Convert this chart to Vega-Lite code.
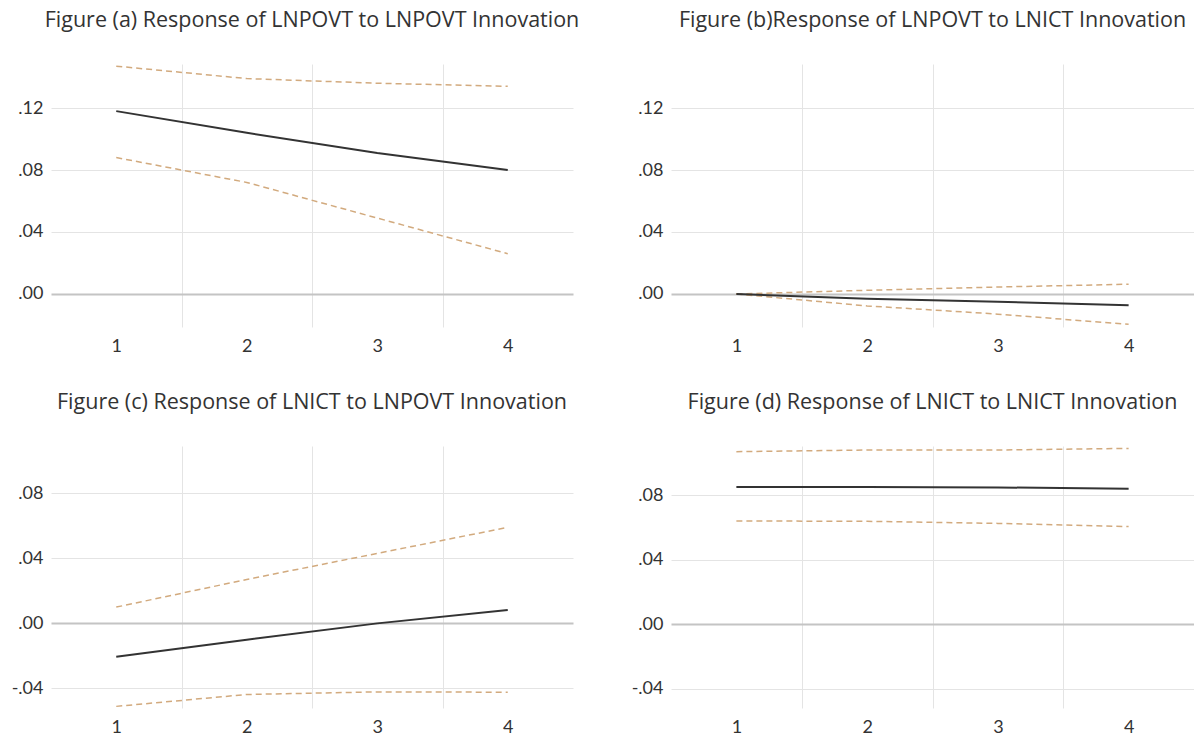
{
  "$schema": "https://vega.github.io/schema/vega-lite/v6.json",
  "padding": {"left": 11, "top": 9, "right": 0, "bottom": 0},
  "background": "white",
  "bounds": "flush",
  "columns": 2,
  "spacing": {"row": 119, "column": 98},
  "config": {
    "view": {"stroke": null},
    "font": "Lato",
    "title": {"font": "Open Sans", "fontSize": 21.5, "fontWeight": "normal", "color": "#333333", "anchor": "middle", "frame": "group", "offset": 33, "baseline": "alphabetic"},
    "axis": {"domain": false, "ticks": false, "labelFont": "Lato", "labelFontSize": 18, "labelColor": "#333333", "title": null, "labelFlush": false, "labelOverlap": false, "gridWidth": 1},
    "line": {"strokeJoin": "round"}
  },
  "data": {"values": [
    {"panel": "a", "series": "resp", "h": 1, "value": 0.118},
    {"panel": "a", "series": "resp", "h": 2, "value": 0.104},
    {"panel": "a", "series": "resp", "h": 3, "value": 0.091},
    {"panel": "a", "series": "resp", "h": 4, "value": 0.080},
    {"panel": "a", "series": "upper", "h": 1, "value": 0.147},
    {"panel": "a", "series": "upper", "h": 2, "value": 0.139},
    {"panel": "a", "series": "upper", "h": 3, "value": 0.136},
    {"panel": "a", "series": "upper", "h": 4, "value": 0.134},
    {"panel": "a", "series": "lower", "h": 1, "value": 0.088},
    {"panel": "a", "series": "lower", "h": 2, "value": 0.072},
    {"panel": "a", "series": "lower", "h": 3, "value": 0.049},
    {"panel": "a", "series": "lower", "h": 4, "value": 0.026},
    {"panel": "b", "series": "resp", "h": 1, "value": 0.000},
    {"panel": "b", "series": "resp", "h": 2, "value": -0.003},
    {"panel": "b", "series": "resp", "h": 3, "value": -0.005},
    {"panel": "b", "series": "resp", "h": 4, "value": -0.0073},
    {"panel": "b", "series": "upper", "h": 1, "value": 0.000},
    {"panel": "b", "series": "upper", "h": 2, "value": 0.0024},
    {"panel": "b", "series": "upper", "h": 3, "value": 0.0045},
    {"panel": "b", "series": "upper", "h": 4, "value": 0.0063},
    {"panel": "b", "series": "lower", "h": 1, "value": 0.000},
    {"panel": "b", "series": "lower", "h": 2, "value": -0.0077},
    {"panel": "b", "series": "lower", "h": 3, "value": -0.013},
    {"panel": "b", "series": "lower", "h": 4, "value": -0.0196},
    {"panel": "c", "series": "resp", "h": 1, "value": -0.0205},
    {"panel": "c", "series": "resp", "h": 2, "value": -0.010},
    {"panel": "c", "series": "resp", "h": 3, "value": 0.000},
    {"panel": "c", "series": "resp", "h": 4, "value": 0.0082},
    {"panel": "c", "series": "upper", "h": 1, "value": 0.010},
    {"panel": "c", "series": "upper", "h": 2, "value": 0.027},
    {"panel": "c", "series": "upper", "h": 3, "value": 0.043},
    {"panel": "c", "series": "upper", "h": 4, "value": 0.059},
    {"panel": "c", "series": "lower", "h": 1, "value": -0.051},
    {"panel": "c", "series": "lower", "h": 2, "value": -0.0437},
    {"panel": "c", "series": "lower", "h": 3, "value": -0.0421},
    {"panel": "c", "series": "lower", "h": 4, "value": -0.0423},
    {"panel": "d", "series": "resp", "h": 1, "value": 0.085},
    {"panel": "d", "series": "resp", "h": 2, "value": 0.085},
    {"panel": "d", "series": "resp", "h": 3, "value": 0.0848},
    {"panel": "d", "series": "resp", "h": 4, "value": 0.084},
    {"panel": "d", "series": "upper", "h": 1, "value": 0.107},
    {"panel": "d", "series": "upper", "h": 2, "value": 0.108},
    {"panel": "d", "series": "upper", "h": 3, "value": 0.108},
    {"panel": "d", "series": "upper", "h": 4, "value": 0.109},
    {"panel": "d", "series": "lower", "h": 1, "value": 0.064},
    {"panel": "d", "series": "lower", "h": 2, "value": 0.0638},
    {"panel": "d", "series": "lower", "h": 3, "value": 0.0625},
    {"panel": "d", "series": "lower", "h": 4, "value": 0.0605}
  ]},
  "concat": [
    {
      "width": 522, "height": 263,
      "title": "Figure (a) Response of LNPOVT to LNPOVT Innovation",
      "transform": [{"filter": "datum.panel === 'a'"}],
      "encoding": {
        "x": {"field": "h", "type": "quantitative", "scale": {"domain": [0.5, 4.5], "nice": false, "zero": false},
              "axis": {"values": [1, 1.5, 2, 2.5, 3, 3.5, 4], "labelPadding": 10, "labelExpr": "datum.value % 1 === 0 ? format(datum.value, 'd') : ''", "gridColor": "#e4e4e4", "gridOpacity": {"condition": {"test": "datum.value % 1 === 0", "value": 0}, "value": 1}}},
        "y": {"field": "value", "type": "quantitative", "scale": {"domain": [-0.0213, 0.1484], "nice": false, "zero": false},
              "axis": {"values": [0, 0.04, 0.08, 0.12], "labelPadding": 8, "labelExpr": "replace(replace(format(datum.value, '.2f'), '0.', '.'), '−', '-')", "gridColor": {"condition": {"test": "datum.value === 0", "value": "#c4c4c4"}, "value": "#e4e4e4"}, "gridWidth": {"condition": {"test": "datum.value === 0", "value": 2}, "value": 1}}}
      },
      "layer": [
        {"transform": [{"filter": "datum.series !== 'resp'"}], "mark": {"type": "line", "color": "#d2aa7e", "strokeWidth": 1.5, "strokeDash": [6, 4]}, "encoding": {"detail": {"field": "series"}}},
        {"transform": [{"filter": "datum.series === 'resp'"}], "mark": {"type": "line", "color": "#333333", "strokeWidth": 2}, "encoding": {}}
      ]
    },
    {
      "width": 523, "height": 263,
      "title": "Figure (b)Response of LNPOVT to LNICT Innovation",
      "transform": [{"filter": "datum.panel === 'b'"}],
      "encoding": {
        "x": {"field": "h", "type": "quantitative", "scale": {"domain": [0.5, 4.5], "nice": false, "zero": false},
              "axis": {"values": [1, 1.5, 2, 2.5, 3, 3.5, 4], "labelPadding": 10, "labelExpr": "datum.value % 1 === 0 ? format(datum.value, 'd') : ''", "gridColor": "#e4e4e4", "gridOpacity": {"condition": {"test": "datum.value % 1 === 0", "value": 0}, "value": 1}}},
        "y": {"field": "value", "type": "quantitative", "scale": {"domain": [-0.0213, 0.1484], "nice": false, "zero": false},
              "axis": {"values": [0, 0.04, 0.08, 0.12], "labelPadding": 8, "labelExpr": "replace(replace(format(datum.value, '.2f'), '0.', '.'), '−', '-')", "gridColor": {"condition": {"test": "datum.value === 0", "value": "#c4c4c4"}, "value": "#e4e4e4"}, "gridWidth": {"condition": {"test": "datum.value === 0", "value": 2}, "value": 1}}}
      },
      "layer": [
        {"transform": [{"filter": "datum.series !== 'resp'"}], "mark": {"type": "line", "color": "#d2aa7e", "strokeWidth": 1.5, "strokeDash": [6, 4]}, "encoding": {"detail": {"field": "series"}}},
        {"transform": [{"filter": "datum.series === 'resp'"}], "mark": {"type": "line", "color": "#333333", "strokeWidth": 2}, "encoding": {}}
      ]
    },
    {
      "width": 522, "height": 262,
      "title": "Figure (c) Response of LNICT to LNPOVT Innovation",
      "transform": [{"filter": "datum.panel === 'c'"}],
      "encoding": {
        "x": {"field": "h", "type": "quantitative", "scale": {"domain": [0.5, 4.5], "nice": false, "zero": false},
              "axis": {"values": [1, 1.5, 2, 2.5, 3, 3.5, 4], "labelPadding": 10, "labelExpr": "datum.value % 1 === 0 ? format(datum.value, 'd') : ''", "gridColor": "#e4e4e4", "gridOpacity": {"condition": {"test": "datum.value % 1 === 0", "value": 0}, "value": 1}}},
        "y": {"field": "value", "type": "quantitative", "scale": {"domain": [-0.052, 0.109], "nice": false, "zero": false},
              "axis": {"values": [-0.04, 0, 0.04, 0.08], "labelPadding": 8, "labelExpr": "replace(replace(format(datum.value, '.2f'), '0.', '.'), '−', '-')", "gridColor": {"condition": {"test": "datum.value === 0", "value": "#c4c4c4"}, "value": "#e4e4e4"}, "gridWidth": {"condition": {"test": "datum.value === 0", "value": 2}, "value": 1}}}
      },
      "layer": [
        {"transform": [{"filter": "datum.series !== 'resp'"}], "mark": {"type": "line", "color": "#d2aa7e", "strokeWidth": 1.5, "strokeDash": [6, 4]}, "encoding": {"detail": {"field": "series"}}},
        {"transform": [{"filter": "datum.series === 'resp'"}], "mark": {"type": "line", "color": "#333333", "strokeWidth": 2}, "encoding": {}}
      ]
    },
    {
      "width": 523, "height": 262,
      "title": "Figure (d) Response of LNICT to LNICT Innovation",
      "transform": [{"filter": "datum.panel === 'd'"}],
      "encoding": {
        "x": {"field": "h", "type": "quantitative", "scale": {"domain": [0.5, 4.5], "nice": false, "zero": false},
              "axis": {"values": [1, 1.5, 2, 2.5, 3, 3.5, 4], "labelPadding": 10, "labelExpr": "datum.value % 1 === 0 ? format(datum.value, 'd') : ''", "gridColor": "#e4e4e4", "gridOpacity": {"condition": {"test": "datum.value % 1 === 0", "value": 0}, "value": 1}}},
        "y": {"field": "value", "type": "quantitative", "scale": {"domain": [-0.052, 0.1105], "nice": false, "zero": false},
              "axis": {"values": [-0.04, 0, 0.04, 0.08], "labelPadding": 8, "labelExpr": "replace(replace(format(datum.value, '.2f'), '0.', '.'), '−', '-')", "gridColor": {"condition": {"test": "datum.value === 0", "value": "#c4c4c4"}, "value": "#e4e4e4"}, "gridWidth": {"condition": {"test": "datum.value === 0", "value": 2}, "value": 1}}}
      },
      "layer": [
        {"transform": [{"filter": "datum.series !== 'resp'"}], "mark": {"type": "line", "color": "#d2aa7e", "strokeWidth": 1.5, "strokeDash": [6, 4]}, "encoding": {"detail": {"field": "series"}}},
        {"transform": [{"filter": "datum.series === 'resp'"}], "mark": {"type": "line", "color": "#333333", "strokeWidth": 2}, "encoding": {}}
      ]
    }
  ]
}
